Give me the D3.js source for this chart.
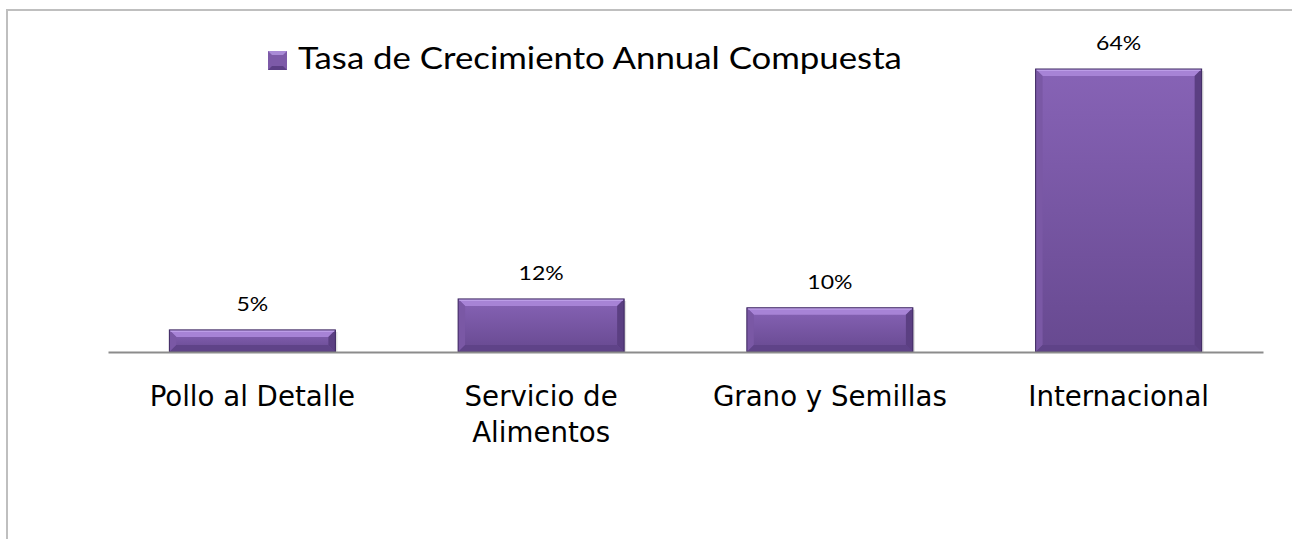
<!DOCTYPE html>
<html>
<head>
<meta charset="utf-8">
<script src="https://cdn.jsdelivr.net/npm/d3@7"></script>
<style>
  html, body { margin: 0; padding: 0; background: #ffffff; }
  svg { display: block; }
</style>
</head>
<body>
<svg id="chart" width="1292" height="539"></svg>
<script>
const categories = [["Pollo al Detalle"], ["Servicio de", "Alimentos"], ["Grano y Semillas"], ["Internacional"]];
const values = [5, 12, 10, 64];
const valueLabels = ["5%", "12%", "10%", "64%"];
const seriesName = "Tasa de Crecimiento Annual Compuesta";

const svg = d3.select("#chart");

// chart area border (extends past right and bottom edge)
svg.append("path")
  .attr("d", "M7,539 L7,10 L1292,10")
  .attr("fill", "none").attr("stroke", "#bfbfbf").attr("stroke-width", 2);

const x = d3.scaleBand()
  .domain(d3.range(values.length))
  .range([108, 1263])
  .paddingInner(0.425)
  .paddingOuter(0.2125);

const y = d3.scaleLinear().domain([0, 64]).range([352, 69]);

const defs = svg.append("defs");
const g1 = defs.append("linearGradient").attr("id", "body").attr("x1", 0).attr("y1", 0).attr("x2", 0).attr("y2", 1);
g1.append("stop").attr("offset", "0%").attr("stop-color", "#8763b6");
g1.append("stop").attr("offset", "100%").attr("stop-color", "#674990");

const bars = svg.append("g");
const bev = 7;
values.forEach((v, i) => {
  const x0 = x(i), x1 = x(i) + x.bandwidth();
  const y0 = y(v), y1 = y(0);
  const b = Math.min(bev, (y1 - y0) / 2 - 1);
  const g = bars.append("g");
  g.append("rect").attr("x", x0 + 2).attr("y", y0 + 2).attr("width", x1 - x0).attr("height", y1 - y0 - 2)
    .attr("fill", "#000").attr("opacity", 0.12);
  g.append("rect").attr("x", x0).attr("y", y0).attr("width", x1 - x0).attr("height", y1 - y0)
    .attr("fill", "url(#body)");
  g.append("polygon").attr("points", [[x0, y0], [x1, y0], [x1 - b, y0 + b], [x0 + b, y0 + b]].join(" "))
    .attr("fill", "#a783d6");
  g.append("polygon").attr("points", [[x0, y0], [x0 + b, y0 + b], [x0 + b, y1 - b], [x0, y1]].join(" "))
    .attr("fill", "#7a58a5");
  g.append("polygon").attr("points", [[x1, y0], [x1 - b, y0 + b], [x1 - b, y1 - b], [x1, y1]].join(" "))
    .attr("fill", "#5b3f82");
  g.append("polygon").attr("points", [[x0, y1], [x0 + b, y1 - b], [x1 - b, y1 - b], [x1, y1]].join(" "))
    .attr("fill", "#5f4388");
  g.append("line").attr("x1", x0 + 1).attr("x2", x1 - 1).attr("y1", y0 + 1).attr("y2", y0 + 1)
    .attr("stroke", "#c3a6ec").attr("stroke-width", 1.5);
  g.append("rect").attr("x", x0).attr("y", y0).attr("width", x1 - x0).attr("height", y1 - y0)
    .attr("fill", "none").attr("stroke", "#3d2860").attr("stroke-width", 1);
});

// axis line
const xAxis = d3.axisBottom(x).tickSize(0).tickFormat("");
svg.append("g").attr("transform", "translate(0,352)").call(xAxis)
  .call(g => g.select(".domain").attr("stroke", "#8c8c8c").attr("stroke-width", 2));

// data labels (horizontally stretched like the reference)
svg.append("g").selectAll("text").data(values).join("text")
  .attr("transform", (d, i) => `translate(${x(i) + x.bandwidth() / 2},${y(d) - 19}) scale(1.15,1)`)
  .attr("text-anchor", "middle")
  .attr("font-family", "Lato, 'Open Sans', sans-serif")
  .attr("font-size", 20)
  .attr("fill", "#000")
  .text((d, i) => valueLabels[i]);

// category labels
const cat = svg.append("g").selectAll("text").data(categories).join("text")
  .attr("transform", (d, i) => `translate(${x(i) + x.bandwidth() / 2},406) scale(1.06,1)`)
  .attr("text-anchor", "middle")
  .attr("font-family", "'DejaVu Sans Condensed', 'DejaVu Sans', sans-serif")
  .attr("font-stretch", "condensed")
  .attr("font-size", 29)
  .attr("fill", "#000");
cat.each(function (lines) {
  const t = d3.select(this);
  lines.forEach((ln, k) => {
    t.append("tspan").attr("x", 0).attr("dy", k === 0 ? 0 : 36).text(ln);
  });
});

// legend
const lg = svg.append("g").attr("transform", "translate(268,51)");
lg.append("rect").attr("width", 19).attr("height", 19).attr("fill", "#7d5aa8");
lg.append("polygon").attr("points", "0,0 19,0 15,4 4,4").attr("fill", "#a98ad6");
lg.append("polygon").attr("points", "0,19 19,19 15,15 4,15").attr("fill", "#5c3f85");
lg.append("text").attr("transform", "translate(30,18) scale(1.16,1)")
  .attr("font-family", "Lato, 'Open Sans', sans-serif")
  .attr("font-size", 30)
  .attr("fill", "#000")
  .text(seriesName);
</script>
</body>
</html>
